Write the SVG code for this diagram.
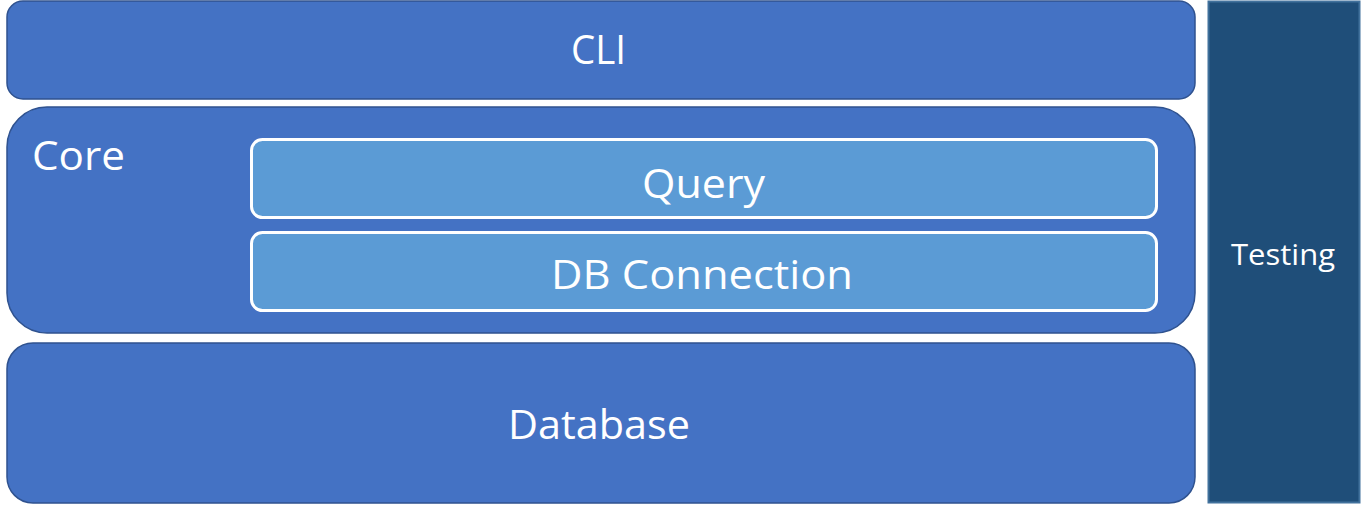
<svg xmlns="http://www.w3.org/2000/svg" width="1362" height="505" viewBox="0 0 1362 505">
<style>
.layer{fill:#4472c4;stroke:#2f528f;stroke-width:1.5}
.inner{fill:#5b9bd5;stroke:#ffffff;stroke-width:3}
.t{font-family:"Open Sans","Noto Sans",sans-serif;fill:#ffffff}
</style>
<rect width="1362" height="505" fill="#ffffff"/>
<g id="cli">
<rect class="layer" x="7" y="1" width="1188" height="98" rx="16"/>
<text class="t" x="571" y="64" font-size="40" textLength="55" lengthAdjust="spacingAndGlyphs">CLI</text>
</g>
<g id="core">
<rect class="layer" x="7" y="107" width="1188" height="226" rx="40"/>
<text class="t" x="32" y="170" font-size="40" textLength="93" lengthAdjust="spacingAndGlyphs">Core</text>
</g>
<g id="query">
<rect class="inner" x="251.5" y="139.5" width="905" height="78" rx="11"/>
<text class="t" x="642" y="198" font-size="40" textLength="123" lengthAdjust="spacingAndGlyphs">Query</text>
</g>
<g id="dbconn">
<rect class="inner" x="251.5" y="232.5" width="905" height="78" rx="11"/>
<text class="t" x="551" y="289" font-size="40" textLength="302" lengthAdjust="spacingAndGlyphs">DB Connection</text>
</g>
<g id="database">
<rect class="layer" x="7" y="343" width="1188" height="160" rx="26"/>
<text class="t" x="508" y="439" font-size="40" textLength="182" lengthAdjust="spacingAndGlyphs">Database</text>
</g>
<g id="testing">
<rect x="1208.5" y="1.5" width="151" height="501" fill="#1f4e79" stroke="#41719c" stroke-width="2"/>
<text class="t" x="1231" y="265" font-size="29" textLength="104" lengthAdjust="spacingAndGlyphs">Testing</text>
</g>
<g id="connectors"/>
</svg>
